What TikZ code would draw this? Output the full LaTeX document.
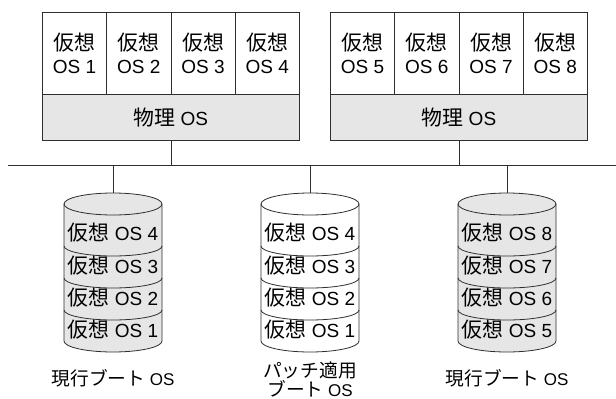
\documentclass[tikz,border=0pt]{standalone}
\usepackage{fontspec}
\setmainfont{Liberation Sans}
\newfontfamily\jp[Scale=1.1]{Noto Sans CJK JP}
\definecolor{lg}{HTML}{E6E6E6}
\definecolor{ln}{HTML}{2E2E2E}
\newcommand\mycyl[3]{%
  \begin{scope}[shift={(#1,0)}]
    \coordinate (#3) at (0,-193);
    \fill[#2] (-49,-204) -- (-49,-341) arc (180:360:49 and 11) -- (49,-204) arc (0:180:49 and 11) -- cycle;
    \draw[cylline] (0,-204) ellipse (49 and 11);
    \draw[cylline] (-49,-204) -- (-49,-341) arc (180:360:49 and 11) -- (49,-204);
    \draw[cylline] (-49,-246) arc (180:360:49 and 10);
    \draw[cylline] (-49,-278) arc (180:360:49 and 10);
    \draw[cylline] (-49,-310) arc (180:360:49 and 10);
  \end{scope}}
\begin{document}
\begin{tikzpicture}[x=1pt,y=1pt,
  vm/.style={draw=ln, line width=0.8pt, fill=white, minimum width=64.25pt, minimum height=82pt,
    inner sep=0pt, align=center, font=\fontsize{19}{22.5}\selectfont, anchor=north west},
  phys/.style={draw=ln, line width=0.8pt, fill=lg, minimum width=257pt, minimum height=46pt,
    inner sep=0pt, font=\fontsize{19}{22}\selectfont, anchor=north west},
  conn/.style={draw=ln, line width=0.8pt},
  cylline/.style={draw=ln, line width=0.8pt},
  cyltext/.style={inner sep=0pt, font=\fontsize{19}{22}\selectfont},
  lbl/.style={inner sep=0pt, align=center, font=\fontsize{17}{19}\selectfont}]
\useasboundingbox (0,0) rectangle (616,-399);
% physical OS boxes
\node[phys] (p1) at (42,-94) {{\jp 物理} OS};
\node[phys] (p2) at (330,-94) {{\jp 物理} OS};
% virtual OS boxes
\node[vm] (v1) at (42,-12) {{\jp 仮想}\\OS 1};
\node[vm] (v2) at (106.25,-12) {{\jp 仮想}\\OS 2};
\node[vm] (v3) at (170.5,-12) {{\jp 仮想}\\OS 3};
\node[vm] (v4) at (234.75,-12) {{\jp 仮想}\\OS 4};
\node[vm] (v5) at (330,-12) {{\jp 仮想}\\OS 5};
\node[vm] (v6) at (394.25,-12) {{\jp 仮想}\\OS 6};
\node[vm] (v7) at (458.5,-12) {{\jp 仮想}\\OS 7};
\node[vm] (v8) at (522.75,-12) {{\jp 仮想}\\OS 8};
% bus
\coordinate (busL) at (8,-165);
\coordinate (busR) at (616,-165);
\draw[conn] (busL) -- (busR);
\draw[conn] (p1.south) -- (p1.south |- busL);
\draw[conn] (p2.south) -- (p2.south |- busL);
% cylinders
\mycyl{113}{lg}{c1}
\mycyl{310}{white}{c2}
\mycyl{507}{lg}{c3}
\draw[conn] (c1 |- busL) -- (c1);
\draw[conn] (c2 |- busL) -- (c2);
\draw[conn] (c3 |- busL) -- (c3);
% cylinder texts
\node[cyltext] (a4) at (113,-233) {{\jp 仮想} OS 4};
\node[cyltext] (a3) at (113,-266) {{\jp 仮想} OS 3};
\node[cyltext] (a2) at (113,-298) {{\jp 仮想} OS 2};
\node[cyltext] (a1) at (113,-330) {{\jp 仮想} OS 1};
\node[cyltext] (b4) at (310,-233) {{\jp 仮想} OS 4};
\node[cyltext] (b3) at (310,-266) {{\jp 仮想} OS 3};
\node[cyltext] (b2) at (310,-298) {{\jp 仮想} OS 2};
\node[cyltext] (b1) at (310,-330) {{\jp 仮想} OS 1};
\node[cyltext] (d8) at (507,-233) {{\jp 仮想} OS 8};
\node[cyltext] (d7) at (507,-266) {{\jp 仮想} OS 7};
\node[cyltext] (d6) at (507,-298) {{\jp 仮想} OS 6};
\node[cyltext] (d5) at (507,-330) {{\jp 仮想} OS 5};
% labels
\node[lbl] (l1) at (113,-378) {{\jp 現行ブート} OS};
\node[lbl] (l2) at (310,-379.5) {{\jp パッチ適用}\\{\jp ブート} OS};
\node[lbl] (l3) at (507,-378) {{\jp 現行ブート} OS};
\end{tikzpicture}
\end{document}
